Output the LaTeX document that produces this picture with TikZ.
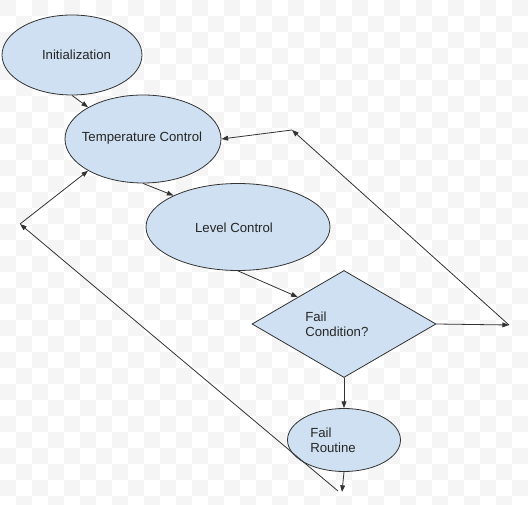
\documentclass[tikz,border=0pt]{standalone}
\usepackage{fontspec}
\setmainfont{Liberation Sans}
\usetikzlibrary{shapes.geometric,arrows.meta,calc}
\definecolor{boxfill}{RGB}{206,224,241}
\definecolor{edge}{RGB}{51,51,51}
\definecolor{checker}{RGB}{245,245,245}
\tikzset{
  shapebox/.style={draw=edge, fill=boxfill, line width=0.6pt, inner sep=0pt},
  oval/.style={shapebox, ellipse},
  decision/.style={shapebox, diamond},
  txt/.style={font=\fontsize{9.9pt}{11.4pt}\selectfont, text=black!85, inner sep=0pt, align=left},
  conn/.style={draw=edge, line width=0.6pt, -{Triangle[length=5pt,width=3.6pt]}},
}
\begin{document}
\begin{tikzpicture}[x=0.75pt,y=-0.75pt]
\useasboundingbox (0,0) rectangle (528,505);
\fill[white] (0,0) rectangle (528,505);
\foreach \i in {0,...,32}{
  \foreach \j in {0,...,31}{
    \pgfmathtruncatemacro{\myparity}{mod(\i+\j,2)}
    \ifnum\myparity=0
      \fill[checker] (\i*16,\j*16) rectangle ({min(\i*16+16,528)},{min(\j*16+16,505)});
    \fi
  }
}
% shapes
\node[oval, minimum width=105pt, minimum height=60pt] (init) at (72,55) {};
\node[oval, minimum width=117pt, minimum height=66pt] (temp) at (143,139) {};
\node[oval, minimum width=138pt, minimum height=65.25pt] (level) at (238,227) {};
\node[decision, minimum width=138pt, minimum height=80.25pt] (fc) at (344,324) {};
\node[oval, minimum width=84.75pt, minimum height=47.25pt] (fr) at (344,440) {};
% texts
\node[txt] (initt) at (76.5,55) {Initialization};
\node[txt] (tempt) at (142,138) {Temperature Control};
\node[txt] (levelt) at (234,228) {Level Control};
\node[txt, anchor=west] (fct) at (305,324.5) {Fail\\Condition?};
\node[txt, anchor=west] (frt) at (310,440) {Fail\\Routine};
% free ends
\coordinate (frend) at (342,492);
\coordinate (a1) at (338,491);
\coordinate (a2) at (20,224);
\coordinate (b1) at (509,325);
\coordinate (b2) at (292,130);
% connectors
\draw[conn] (init.south) -- (temp.150.6);
\draw[conn] (temp.south) -- (level.154);
\draw[conn] (level.south) -- ($(fc.west)!0.5!(fc.north)$);
\draw[conn] (fc.south) -- (fr.north);
\draw[conn] (fr.south) -- (frend);
\draw[conn] (a1) -- (a2);
\draw[conn] (a2) -- (temp.210);
\draw[conn] (fc.east) -- (b1);
\draw[conn] (b1) -- (b2);
\draw[conn] (b2) -- (temp.east);
\end{tikzpicture}
\end{document}
